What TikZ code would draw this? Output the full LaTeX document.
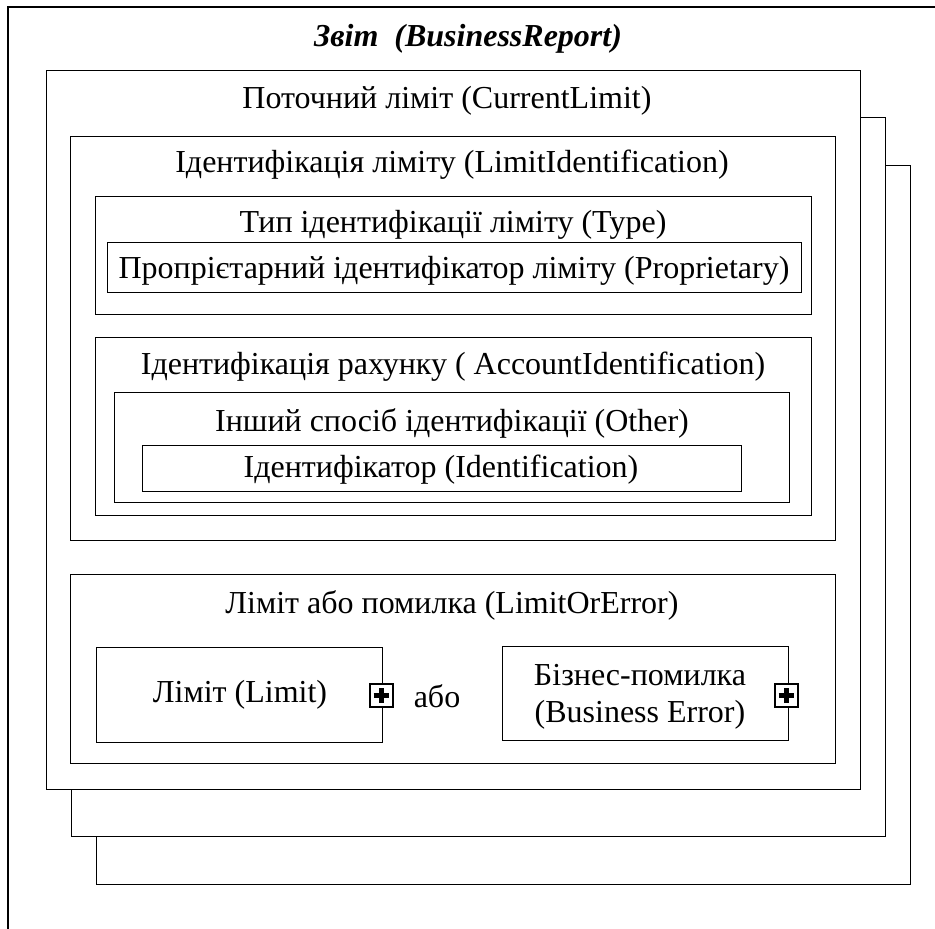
\documentclass[tikz,border=0pt]{standalone}
\usepackage{fontspec}
\setmainfont{Liberation Serif}

\begin{document}
\begin{tikzpicture}[x=1pt, y=-1pt,
    box/.style={draw, line width=1pt, fill=white},
    txt/.style={font=\fontsize{32}{37}\selectfont, inner sep=0pt, align=center},
    plusbox/.style={draw, line width=2pt, fill=white, minimum size=23pt, inner sep=0pt},
    cross/.style={line width=5pt}]
    \useasboundingbox (0,0) rectangle (935,929);

    % outer frame, open at right and bottom
    \draw[line width=1.5pt] (8,929) -- (8,7) -- (935,7);
    \node[txt, font=\fontsize{32}{37}\bfseries\itshape\selectfont] (title) at (468,39) {Звіт~ (BusinessReport)};

    % stacked pages
    \draw[box] (96,165) rectangle (910,884);
    \draw[box] (71,117) rectangle (885,836);
    \draw[box] (46,70) rectangle (860,789);
    \node[txt] (cur) at (447,101) {Поточний ліміт (CurrentLimit)};

    % limit identification
    \draw[box] (70,136) rectangle (835,540);
    \node[txt] (limid) at (452,165) {Ідентифікація ліміту (LimitIdentification)};
    \draw[box] (95,196) rectangle (811,314);
    \node[txt] (type) at (453,225) {Тип ідентифікації ліміту (Type)};
    \draw[box] (107,242) rectangle (801,292);
    \node[txt] (prop) at (454,271) {Пропрієтарний ідентифікатор ліміту (Proprietary)};

    % account identification
    \draw[box] (95,337) rectangle (811,515);
    \node[txt] (accid) at (453,367) {Ідентифікація рахунку ( AccountIdentification)};
    \draw[box] (114,392) rectangle (789,502);
    \node[txt] (other) at (452,423) {Інший спосіб ідентифікації (Other)};
    \draw[box] (142,445) rectangle (741,491);
    \node[txt] (ident) at (441,470) {Ідентифікатор (Identification)};

    % limit or error
    \draw[box] (70,574) rectangle (835,763);
    \node[txt] (lore) at (452,605) {Ліміт або помилка (LimitOrError)};
    \draw[box] (96,647) rectangle (382,742);
    \node[txt] (limit) at (240,695) {Ліміт (Limit)};
    \node[plusbox] (plimit) at (381,695) {};
    \node[txt] (or) at (437,696) {або};
    \draw[box] (502,646) rectangle (788,740);
    \node[txt] (berr) at (640,697) {Бізнес-помилка\\(Business Error)};
    \node[plusbox] (pberr) at (786,695) {};

    % plus signs
    \foreach \p in {plimit, pberr} {
        \draw[cross] ([xshift=-7.5pt]\p.center) -- ([xshift=7.5pt]\p.center);
        \draw[cross] ([yshift=-7.5pt]\p.center) -- ([yshift=7.5pt]\p.center);
    }
\end{tikzpicture}
\end{document}
